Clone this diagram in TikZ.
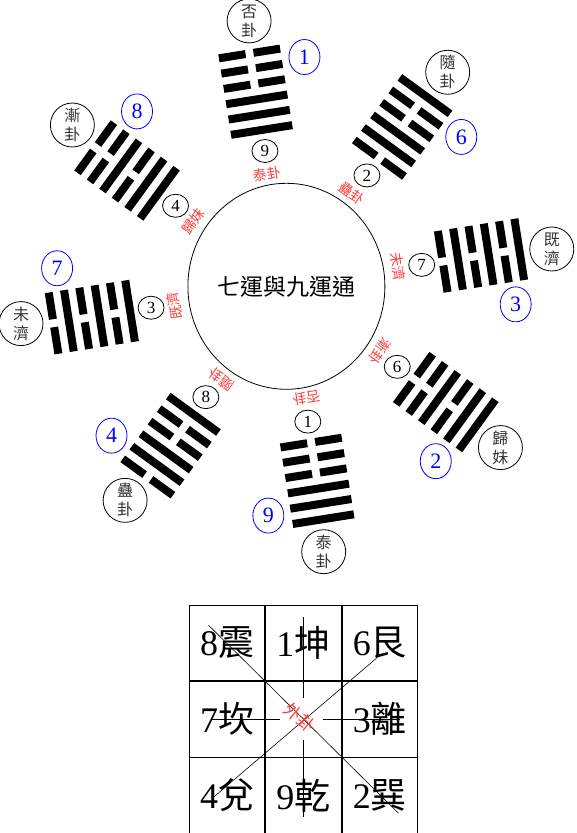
\documentclass[tikz,border=0pt]{standalone}
\usepackage{fontspec}
\setmainfont{Liberation Serif}
\newfontfamily\cjk{Noto Sans CJK TC}
\usetikzlibrary{positioning,shapes.geometric}
\definecolor{guared}{RGB}{255,60,60}

% one hexagram: #1 = angle of its place, #2 = lines from inside out (1 yang, 0 yin)
\newcommand\gua[2]{%
  \begin{scope}[shift={(#1:197)}, rotate=#1-90]
    \foreach \yy [count=\i] in {#2} {
      \pgfmathsetmacro\yc{(\i-3.5)*15.5}
      \ifnum\yy=1
        \fill (-31,\yc-4) rectangle (31,\yc+4);
      \else
        \fill (-31,\yc-4) rectangle (-4,\yc+4);
        \fill (4,\yc-4) rectangle (31,\yc+4);
      \fi
    }
  \end{scope}}

\begin{document}
\begin{tikzpicture}[x=1pt, y=1pt, node distance=0pt,
  namecirc/.style={draw, circle, line width=0.8pt, minimum size=44pt, inner sep=0pt, align=center, text=black!80, font=\cjk\fontsize{16}{19}\selectfont},
  innum/.style={draw, ellipse, line width=0.8pt, minimum width=26pt, minimum height=23pt, inner sep=0pt, font=\fontsize{17}{17}\selectfont},
  outnum/.style={draw=blue, ellipse, line width=0.8pt, minimum width=31pt, minimum height=35pt, inner sep=0pt, text=blue, font=\fontsize{22}{22}\selectfont},
  rednm/.style={text=guared, inner sep=0pt, font=\cjk\fontsize{14}{14}\selectfont},
  cell/.style={draw, line width=0.8pt, minimum size=75.6pt, inner sep=0pt, font=\fontsize{36}{36}\selectfont}]
\useasboundingbox (-286.4,-546.7) rectangle (289.6,286.3);
\fill[white] (-286.4,-546.7) rectangle (289.6,286.3);

\node[draw, ellipse, line width=0.8pt, minimum width=197pt, minimum height=206pt, inner sep=0pt,
  font=\cjk\fontsize{23}{23}\selectfont] (core) at (0,0) {七運與九運通};

\gua{99}{1,1,1,0,0,0}
\gua{54}{0,1,1,0,0,1}
\gua{9}{0,1,0,1,0,1}
\gua{-36}{0,0,1,0,1,1}
\gua{-81}{0,0,0,1,1,1}
\gua{-126}{1,0,0,1,1,0}
\gua{-171}{1,0,1,0,1,0}
\gua{144}{1,1,0,1,0,0}

\foreach \a/\nm/\bn/\sn/\rn [count=\k] in {
    99/{否\\卦}/1/9/泰卦,
    54/{隨\\卦}/6/2/蠱卦,
    9/{既\\濟}/3/7/未濟,
    -36/{歸\\妹}/2/6/漸卦,
    -81/{泰\\卦}/9/1/否卦,
    -126/{蠱\\卦}/4/8/隨卦,
    -171/{未\\濟}/7/3/既濟,
    144/{漸\\卦}/8/4/歸妹} {
  \node[namecirc] (name\k) at (\a-1:268) {\nm};
  \node[outnum] (out\k) at (\a-13.5:230) {\bn};
  \node[innum] (in\k) at (\a:137) {\sn};
  \node[rednm, rotate=\a-90] (red\k) at (\a+1:113.5) {\rn};
}

% the nine cells
\node[cell] (c22) at (17.1,-432.9) {};
\node[cell, above=of c22] (c12) {1{\cjk 坤}};
\node[cell, left=of c12] (c11) {8{\cjk 震}};
\node[cell, right=of c12] (c13) {6{\cjk 艮}};
\node[cell, left=of c22] (c21) {7{\cjk 坎}};
\node[cell, right=of c22] (c23) {3{\cjk 離}};
\node[cell, below=of c22] (c32) {9{\cjk 乾}};
\node[cell, left=of c32] (c31) {4{\cjk 兌}};
\node[cell, right=of c32] (c33) {2{\cjk 巽}};

\draw[line width=0.7pt] (c22.center) ++(0,102) -- ++(0,-81);
\draw[line width=0.7pt] (c22.center) ++(0,-21) -- ++(0,-77);
\draw[line width=0.7pt] (c22.center) ++(-92,0) -- ++(68.5,0);
\draw[line width=0.7pt] (c22.center) ++(19.5,0) -- ++(77,0);
\draw[line width=0.6pt] (c22.center) ++(-95,94) -- ++(190,-188);
\draw[line width=0.6pt] (c22.center) ++(73,61) -- ++(-163,-139);
\node[rednm, font=\cjk\fontsize{17}{17}\selectfont, rotate=-40] (wai) at ([shift={(-3.5,2)}]c22.center) {外卦};
\end{tikzpicture}
\end{document}
